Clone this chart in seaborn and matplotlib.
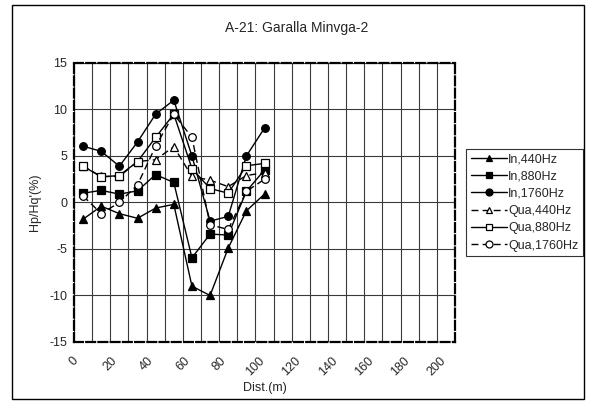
import matplotlib
matplotlib.use("Agg")
import matplotlib.pyplot as plt
from matplotlib.patches import Rectangle
from matplotlib.ticker import MultipleLocator
import seaborn as sns

sns.set_style("white")
plt.rcParams["font.family"] = ["Liberation Sans", "DejaVu Sans"]
plt.rcParams["axes.unicode_minus"] = False

# data
dist = [5, 15, 25, 35, 45, 55, 65, 75, 85, 95, 105]
in_440 = [-1.8, -0.4, -1.2, -1.7, -0.6, -0.2, -9.0, -10.0, -4.9, -0.9, 0.9]
in_880 = [1.0, 1.3, 0.9, 1.25, 3.0, 2.15, -5.95, -3.4, -3.5, 1.2, 3.5]
in_1760 = [6.05, 5.5, 3.9, 6.5, 9.5, 11.0, 5.0, -2.0, -1.5, 5.0, 8.0]
qua_440 = [3.9, 2.8, 2.8, 4.4, 4.6, 6.0, 2.8, 2.4, 1.7, 2.9, 3.2]
qua_880 = [3.9, 2.75, 2.9, 4.4, 7.0, 9.5, 3.65, 1.5, 1.0, 3.95, 4.2]
qua_1760 = [0.7, -1.2, 0.0, 1.9, 6.05, 9.5, 7.0, -2.4, -2.9, 1.2, 2.5]

series = [
    ("In,440Hz", in_440, "^", "black", "-"),
    ("In,880Hz", in_880, "s", "black", "-"),
    ("In,1760Hz", in_1760, "o", "black", "-"),
    ("Qua,440Hz", qua_440, "^", "white", (0, (5, 3))),
    ("Qua,880Hz", qua_880, "s", "white", "-"),
    ("Qua,1760Hz", qua_1760, "o", "white", (0, (5, 3))),
]

fig = plt.figure(figsize=(5.93, 4.05), dpi=100)
ax = fig.add_axes([0.1248, 0.1556, 0.6425, 0.6889])

for label, vals, mk, face, ls in series:
    sns.lineplot(
        x=dist, y=vals, ax=ax, estimator=None, color="black",
        marker=mk, markersize=5.5, markerfacecolor=face,
        markeredgecolor="black", markeredgewidth=0.9,
        linewidth=1.0, linestyle=ls, label=label,
    )

ax.set_xlim(0, 210)
ax.set_ylim(-15, 15)
ax.set_xticks(range(0, 201, 20))
ax.xaxis.set_minor_locator(MultipleLocator(10))
ax.set_yticks(range(-15, 16, 5))
ax.grid(True, which="both", color="#3a3a3a", linewidth=0.8)
ax.set_axisbelow(True)
ax.tick_params(axis="y", which="both", length=0, labelsize=9, pad=5)
ax.tick_params(axis="x", which="both", length=0, labelsize=9, pad=9)
plt.setp(ax.get_xticklabels(), rotation=45, ha="center")

for sp in ax.spines.values():
    sp.set_linestyle((0, (4, 1.5)))
    sp.set_linewidth(1.6)
    sp.set_color("black")

ax.set_xlabel("Dist.(m)", fontsize=9, labelpad=3)
ax.set_ylabel("Hp/Hq'(%)", fontsize=9, labelpad=6)

leg = ax.legend(
    loc="center left", bbox_to_anchor=(1.03, 0.5), fontsize=9,
    frameon=True, fancybox=False, handlelength=2.9, handletextpad=0.1,
    labelspacing=0.42, borderpad=0.35, borderaxespad=0,
)
leg.get_frame().set_edgecolor("black")
leg.get_frame().set_linewidth(0.8)
for h in leg.legend_handles:
    h.set_markersize(5)

fig.text(0.5, 0.93, "A-21: Garalla Minvga-2", ha="center", va="center", fontsize=10)

fig.patches.append(Rectangle((0.0202, 0.0148), 0.9646, 0.9728, transform=fig.transFigure,
                             fill=False, edgecolor="black", linewidth=1.0))

fig.savefig("out.png", dpi=100)
